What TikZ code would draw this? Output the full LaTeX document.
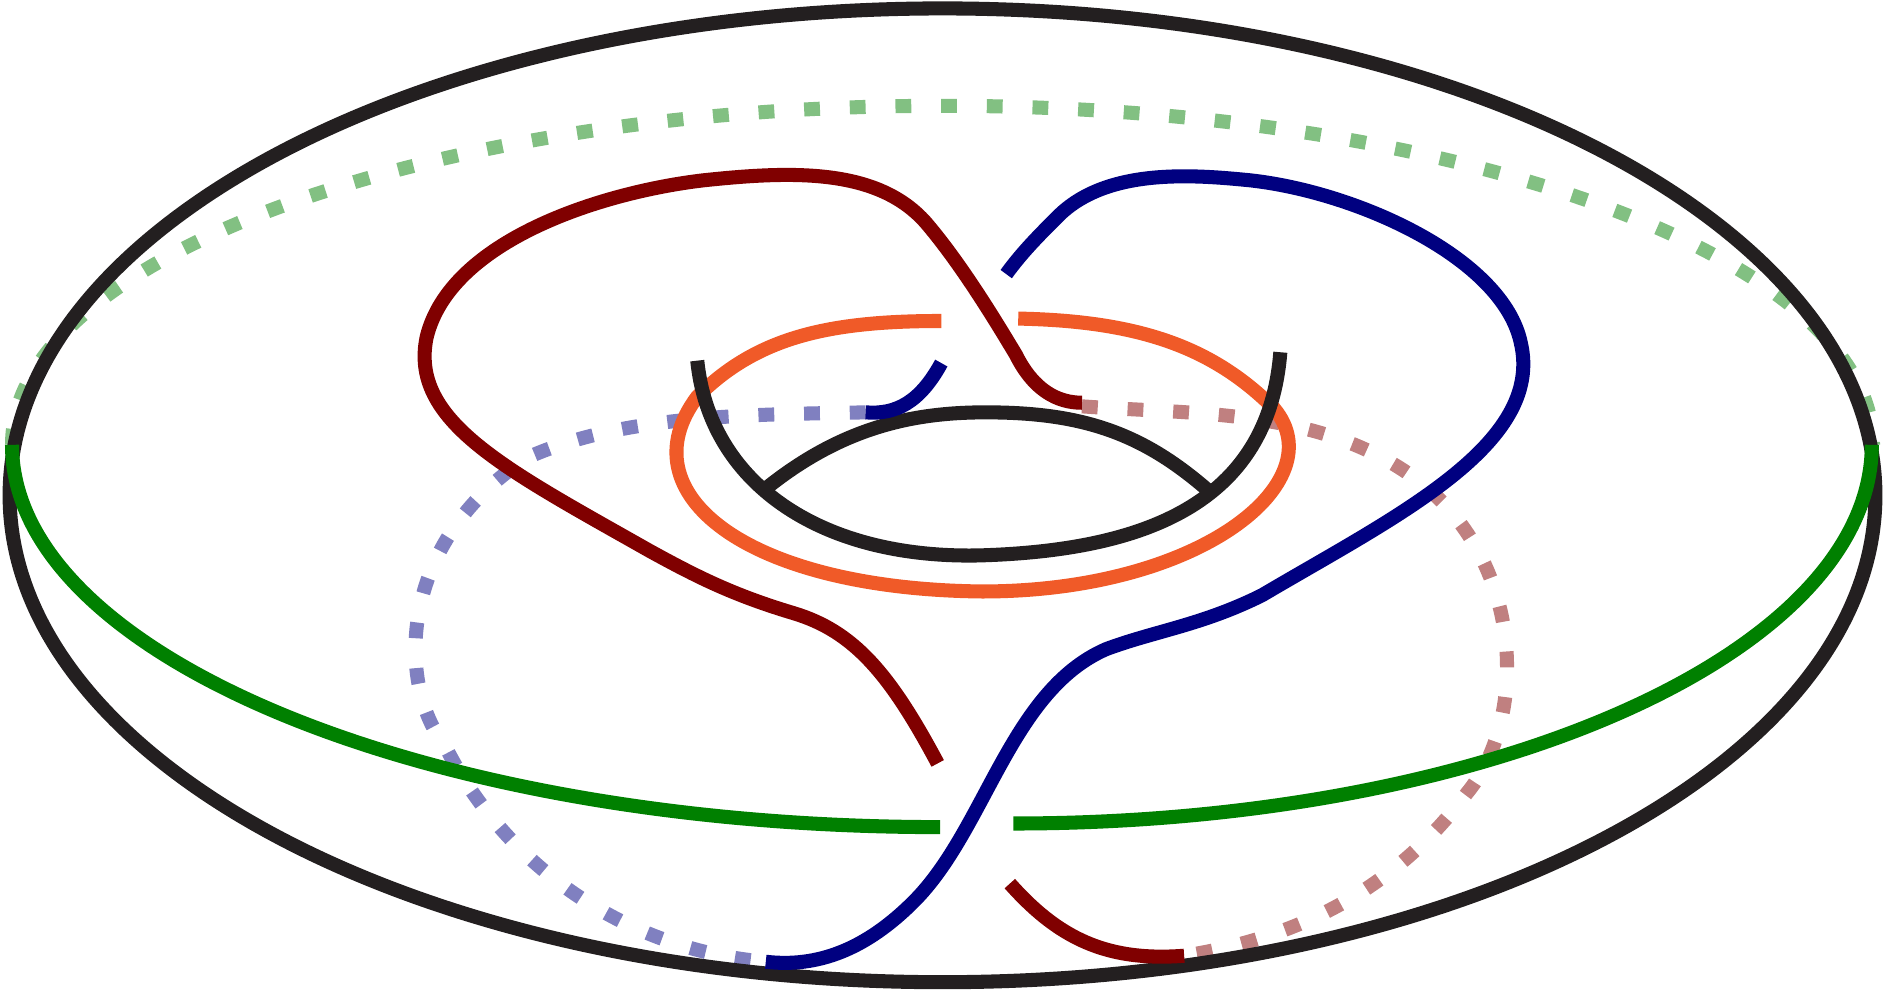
\documentclass[tikz,border=0pt]{standalone}
\definecolor{darkred}{RGB}{128,0,0}
\definecolor{navy}{RGB}{0,0,128}
\definecolor{orng}{RGB}{240,90,40}
\definecolor{grn}{RGB}{0,128,0}
\definecolor{lgrn}{RGB}{130,192,130}
\definecolor{lblue}{RGB}{128,128,192}
\definecolor{lred}{RGB}{192,128,128}
\definecolor{blk}{RGB}{35,31,32}
\begin{document}
\begin{tikzpicture}[x={(0.01202cm,0)}, y={(0,-0.01202cm)}, line width=4pt]
    \tikzset{
        hidden/.style = {dash pattern=on 4.5pt off 8.5pt},
    }
    \useasboundingbox (0,0) rectangle (1568,824);
    % hidden parts
    \draw[lgrn, hidden] (10,370) arc[start angle=180, end angle=360, x radius=774, y radius=282];
    \draw[lblue, hidden] (720,343) .. controls (620,345) and (520,345) .. (440,380)
        .. controls (330,450) and (330,570) .. (370,620)
        .. controls (420,720) and (520,790) .. (637,800);
    \draw[lred, hidden] (900,338) .. controls (1000,345) and (1100,340) .. (1180,400)
        .. controls (1270,470) and (1270,600) .. (1220,660)
        .. controls (1160,740) and (1080,780) .. (985,795);
    % torus
    \draw[blk] (784,412) ellipse[x radius=776, y radius=405];
    \draw[grn] (10,370) arc[start angle=180, end angle=90, x radius=772, y radius=318];
    \draw[grn] (1557,370) arc[start angle=0, end angle=90, x radius=714, y radius=315];
    % inner curves
    \draw[orng] (847,265) .. controls (950,267) and (1010,290) .. (1060,340)
        .. controls (1110,400) and (1000,492) .. (817,492)
        .. controls (620,490) and (520,410) .. (580,330)
        .. controls (630,280) and (690,267) .. (783,267);
    \draw[blk] (635,408) .. controls (700,355) and (760,343) .. (820,343)
        .. controls (900,343) and (950,360) .. (1005,408);
    \draw[blk] (580,300) .. controls (590,400) and (680,465) .. (815,462)
        .. controls (950,458) and (1055,420) .. (1065,293);
    % red curve
    \draw[darkred] (780,635) .. controls (740,560) and (710,525) .. (660,510)
        .. controls (610,495) and (580,480) .. (540,458)
        .. controls (420,390) and (340,350) .. (355,280)
        .. controls (375,200) and (500,160) .. (585,150)
        .. controls (660,142) and (730,140) .. (770,185)
        .. controls (800,220) and (830,270) .. (845,295)
        .. controls (860,325) and (880,335) .. (900,335);
    \draw[darkred] (840,735) .. controls (880,780) and (920,800) .. (985,795);
    % blue curve
    \draw[navy] (837,228) .. controls (850,210) and (865,195) .. (880,180)
        .. controls (920,140) and (990,145) .. (1040,150)
        .. controls (1130,160) and (1250,215) .. (1265,285)
        .. controls (1285,370) and (1160,430) .. (1050,495)
        .. controls (1000,520) and (960,525) .. (920,540)
        .. controls (840,575) and (820,690) .. (760,750)
        .. controls (720,790) and (680,805) .. (637,800);
    \draw[navy] (783,302) .. controls (765,335) and (745,345) .. (720,343);
\end{tikzpicture}
\end{document}
